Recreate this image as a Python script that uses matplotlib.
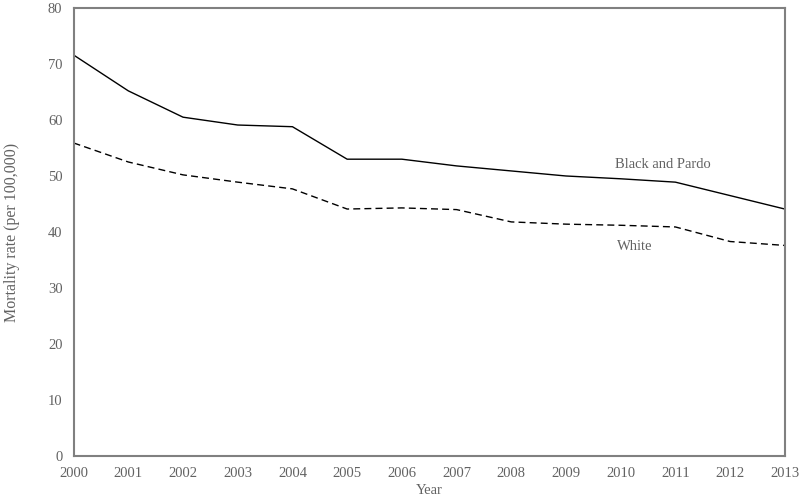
import matplotlib
matplotlib.use('Agg')
import matplotlib.pyplot as plt

plt.rcParams['font.family'] = ['Liberation Serif', 'DejaVu Serif']

years = [2000, 2001, 2002, 2003, 2004, 2005, 2006, 2007, 2008, 2009, 2010, 2011, 2012, 2013]
black_pardo = [71.6, 65.2, 60.5, 59.1, 58.8, 53.0, 53.0, 51.8, 50.9, 50.0, 49.5, 48.9, 46.5, 44.1]
white = [55.9, 52.5, 50.2, 48.9, 47.7, 44.1, 44.3, 44.0, 41.8, 41.4, 41.2, 40.9, 38.3, 37.6]

grey = '#626262'

fig = plt.figure(figsize=(8, 4.98), dpi=100)
ax = fig.add_axes([0.092, 0.0843, 0.889, 0.8997])

ax.plot(years, black_pardo, color='black', lw=1.0)
ax.plot(years, white, color='black', lw=1.0, ls=(0, (5, 3)))

ax.text(2010.78, 52, 'Black and Pardo', fontsize=10.5, color=grey, ha='center', va='center')
ax.text(2010.26, 37.4, 'White', fontsize=10.5, color=grey, ha='center', va='center')

ax.set_xlim(2000, 2013)
ax.set_ylim(0, 80)
ax.set_xticks(years)
ax.set_yticks(range(0, 81, 10))
ax.tick_params(length=0, labelsize=10.5, labelcolor=grey)
ax.tick_params(axis='x', pad=8)
ax.tick_params(axis='y', pad=8)

for s in ax.spines.values():
    s.set_color('#808080')
    s.set_linewidth(1.5)

ax.set_xlabel('Year', fontsize=10.5, color=grey, labelpad=3)
ax.set_ylabel('Mortality rate (per 100,000)', fontsize=11.5, color=grey, labelpad=20)

fig.savefig('out.png', dpi=100)
